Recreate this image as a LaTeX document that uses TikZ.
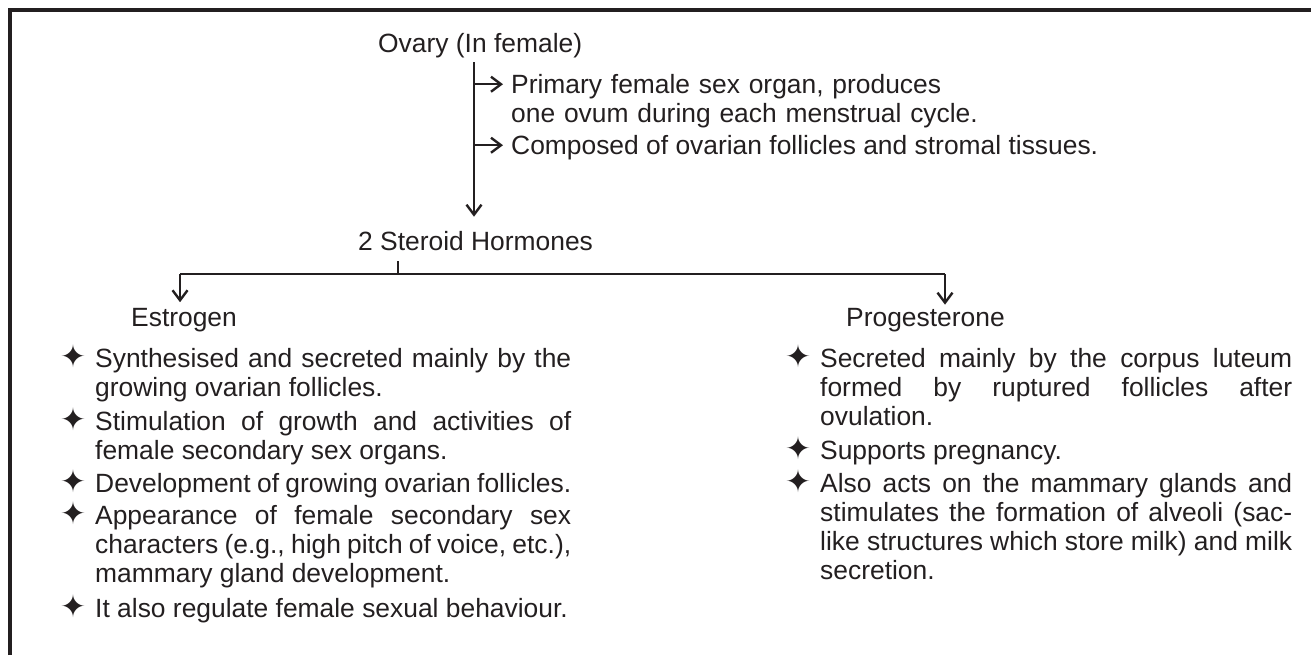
\documentclass[tikz,border=0pt]{standalone}
\usepackage{fontspec}
\setmainfont{Liberation Sans}
\newfontfamily\symfont{DejaVu Sans}
\usetikzlibrary{arrows.meta,calc}
\definecolor{ink}{HTML}{231F20}
% four-pointed star hung to the left of each point
\newcommand\bul{\leavevmode\llap{\raisebox{-0.3pt}{\symfont\fontsize{15.5}{15.5}\selectfont ✦}\hspace{4.5pt}}}
\newcommand\tight{\spaceskip=0.278em plus 1em minus 0.12em\relax
  \hyphenpenalty=10000\relax\tolerance=10000\relax}

\begin{document}
\begin{tikzpicture}[x=0.5pt,y=-0.5pt,line width=1.2pt,ink,
    every node/.style={inner sep=0pt,anchor=base west,text=ink,
      font=\fontsize{13.2}{14.6}\selectfont},
    pts/.style={text width=#1,align=justify,execute at begin node={\tight}},
    >={Straight Barb[length=5pt,width=7.5pt]}]
  \useasboundingbox (0,0) rectangle (1311,655);
  \draw[line width=1.7pt] (10,655) -- (10,10) -- (1311,10);

  % ovary and its two notes
  \node (ovary) at (377,52) {Ovary (In female)};
  \coordinate (stem) at (474,62);
  \node (pri) at (510,93) [text width=300pt,align=left]
    {Primary female sex organ, produces\\one ovum during each menstrual cycle.};
  \node (comp) at (510,154) {Composed of ovarian follicles and stromal tissues.};
  \coordinate (a1) at ($(pri.base west)+(-3.5pt,4.4pt)$);
  \coordinate (a2) at ($(comp.base west)+(-3.5pt,4.4pt)$);
  \draw[->] (stem |- a1) -- (a1);
  \draw[->] (stem |- a2) -- (a2);

  % the two hormones
  \node (horm) at (357,250) {2 Steroid Hormones};
  \draw[->] (stem) -- ([yshift=6.5pt]horm.north -| stem);
  \coordinate (split) at (398,274);
  \coordinate (l) at (180,274);
  \coordinate (r) at (945,274);
  \node (estr) at (130,326) {Estrogen};
  \node (prog) at (845,326) {Progesterone};
  \draw ([yshift=-5pt]horm.south -| split) -- (split);
  \draw (l) -- (r);
  \draw[->] (l) -- ([yshift=2.2pt]estr.north -| l);
  \draw[->] (r) -- ([yshift=1pt]prog.north -| r);

  % estrogen
  \node (e1) at (94,367) [pts=238pt] {\bul Synthesised and secreted mainly by the\linebreak
    growing ovarian follicles.};
  \node (e2) at (94,430) [pts=238pt] {\bul Stimulation of growth and activities of\linebreak
    female secondary sex organs.};
  \node (e3) at (94,492) [pts=238pt] {\bul Development of growing ovarian follicles.};
  \node (e4) at (94,524) [pts=238pt] {\bul Appearance of female secondary sex\linebreak
    characters (e.g., high pitch of voice, etc.),\linebreak mammary gland development.};
  \node (e5) at (94,617) [pts=238pt] {\bul It also regulate female sexual behaviour.};

  % progesterone
  \node (p1) at (819,367) [pts=236pt] {\bul Secreted mainly by the corpus luteum\linebreak
    formed by ruptured follicles after\linebreak ovulation.};
  \node (p2) at (819,459) [pts=236pt] {\bul Supports pregnancy.};
  \node (p3) at (819,492) [pts=236pt] {\bul Also acts on the mammary glands and\linebreak
    stimulates the formation of alveoli (sac-\linebreak like structures which store milk) and milk\linebreak
    secretion.};
\end{tikzpicture}
\end{document}
